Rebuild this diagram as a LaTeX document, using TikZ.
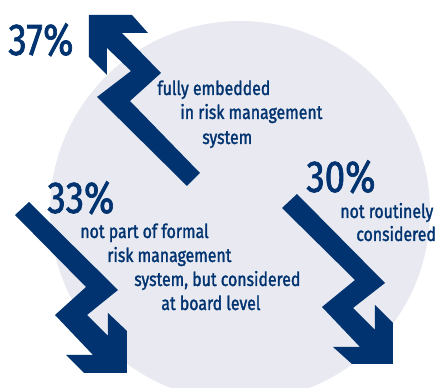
\documentclass[tikz,border=0pt]{standalone}
\usepackage{fontspec}
\setmainfont[FakeStretch=0.82,FakeBold=1.5]{Fira Sans}
\usepackage{tikz}

\definecolor{navy}{HTML}{003370}
\definecolor{disc}{HTML}{E9EAF1}

\tikzset{
	zig/.style={fill=navy, draw=none},
	pct/.style={text=navy, inner sep=0pt, anchor=base west, font=\fontsize{25.5}{26}\selectfont},
	txt/.style={text=navy, inner sep=0pt, anchor=base west, font=\fontsize{11}{13}\selectfont},
}

\begin{document}
\begin{tikzpicture}[x=0.02cm, y=-0.02cm]
		\useasboundingbox (0,0) rectangle (441,388);
		\begin{scope}
			\clip (0,0) rectangle (441,388);
			\fill[disc] (240,211) circle (3.8cm);
		\end{scope}

		\fill[zig] (89,15) -- (132,15) -- (148,33) -- (122,33) -- (161,73) -- (130,101) -- (200,173)
			-- (187,186) -- (97,97) -- (131,71) -- (107,48) -- (107,75) -- (89,57) -- cycle;
		\fill[zig] (29,202) -- (118,290) -- (87,315) -- (108,336) -- (108,313) -- (127,331) -- (127,373)
			-- (84,373) -- (66,355) -- (93,355) -- (55,315) -- (86,287) -- (15,215) -- cycle;
		\fill[zig] (297,194) -- (385,283) -- (353,308) -- (375,330) -- (375,305) -- (393,323) -- (393,364)
			-- (352,364) -- (333,347) -- (360,347) -- (322,307) -- (355,280) -- (282,208) -- cycle;

		\node[pct] (p37) at (8,55) {37\%};
		\node[txt] (emb1) at (157,95) {fully embedded};
		\node[txt] (emb2) at (180,119) {in risk management};
		\node[txt] (emb3) at (202,144) {system};

		\node[pct] (p33) at (47,213) {33\%};
		\node[txt] (brd1) at (80,238) {not part of formal};
		\node[txt] (brd2) at (107,262) {risk management};
		\node[txt] (brd3) at (134,286) {system, but considered};
		\node[txt] (brd4) at (161,310) {at board level};

		\node[pct] (p30) at (306,192) {30\%};
		\node[txt] (rtn1) at (340,218) {not routinely};
		\node[txt] (rtn2) at (356,241) {considered};
\end{tikzpicture}
\end{document}
